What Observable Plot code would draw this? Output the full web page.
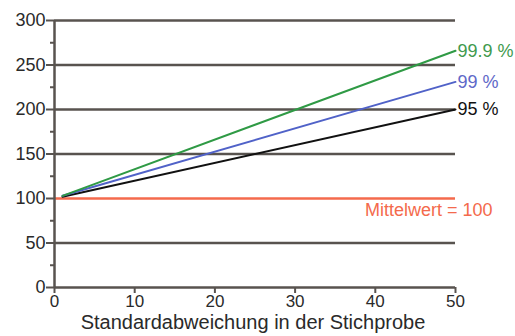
<!DOCTYPE html>
<html><head><meta charset="utf-8">
<script src="https://cdn.jsdelivr.net/npm/d3@7"></script>
<script src="https://cdn.jsdelivr.net/npm/@observablehq/plot@0.6"></script>
<style>body{margin:0;background:#fff;font-family:"Liberation Sans",Arial,sans-serif}</style>
</head><body><div id="chart"></div>
<script>
const sdValues = [1, 50];
const series95 = [102, 200];
const series99 = [103, 231];
const series999 = [103, 266];
const seriesNames = ["95 %", "99 %", "99.9 %"];
const seriesColors = ["#111111", "#5062c8", "#2f9a45"];
const labelColors = ["#111111", "#6068c8", "#3f9a4e"];
const meanValue = 100;
const meanLabel = "Mittelwert = 100";
const yTicks = [0, 50, 100, 150, 200, 250, 300];
const yMinor = [25, 75, 125, 175, 225, 275];
const xTicks = [0, 10, 20, 30, 40, 50];
const gridLines = [50, 150, 200, 250, 300];
const xLabel = "Standardabweichung in der Stichprobe";

const allSeries = [series95, series99, series999];
const lines = [];
allSeries.forEach((s, i) => s.forEach((v, j) => lines.push({x: sdValues[j], y: v, name: seriesNames[i], c: seriesColors[i], lc: labelColors[i], last: j === s.length - 1})));
const ends = lines.filter(d => d.last);

const axisColor = "#58534f";
const plot = Plot.plot({
  width: 515, height: 336,
  marginLeft: 54, marginRight: 60, marginTop: 20, marginBottom: 49,
  style: {fontFamily: "Liberation Sans, Arial, sans-serif", fontSize: "16px", color: "#222"},
  x: {type: "linear", domain: [0, 50]},
  y: {type: "linear", domain: [0, 300]},
  marks: [
    Plot.ruleY(gridLines, {x1: 0, x2: 50, stroke: axisColor, strokeWidth: 2.5}),
    Plot.ruleY([meanValue], {x1: 0, x2: 50, stroke: "#f46a4c", strokeWidth: 2.5}),
    Plot.text([meanLabel], {x: 50, y: meanValue, dx: 37, dy: 12, textAnchor: "end", fill: "#f46a4c", fontSize: 18}),
    Plot.line(lines, {x: "x", y: "y", z: "name", stroke: "c", strokeWidth: 2}),
    Plot.text(ends, {x: "x", y: "y", text: "name", fill: "lc", textAnchor: "start", dx: 2, fontSize: 18, fontWeight: d => d.name === "95 %" ? "bold" : "normal"}),
    Plot.axisY(yTicks, {tickSize: 8, tickPadding: 1, stroke: axisColor, strokeWidth: 2, fontSize: 18, fill: "#2a2a2a", label: null}),
    Plot.axisY(yMinor, {tickSize: 4, text: null, stroke: axisColor, strokeWidth: 2, label: null}),
    Plot.axisX(xTicks, {tickSize: 6, tickPadding: 1, stroke: axisColor, strokeWidth: 2, fontSize: 17, fill: "#2a2a2a", label: null}),
    Plot.ruleX([0], {y1: 0, y2: 300, stroke: axisColor, strokeWidth: 2.5}),
    Plot.ruleY([0], {x1: 0, x2: 50, stroke: axisColor, strokeWidth: 2.5}),
    Plot.text([xLabel], {frameAnchor: "bottom", dx: -2, dy: 41, fontSize: 20, fill: "#2a2a2a"})
  ]
});
document.getElementById("chart").appendChild(plot);
</script></body></html>
